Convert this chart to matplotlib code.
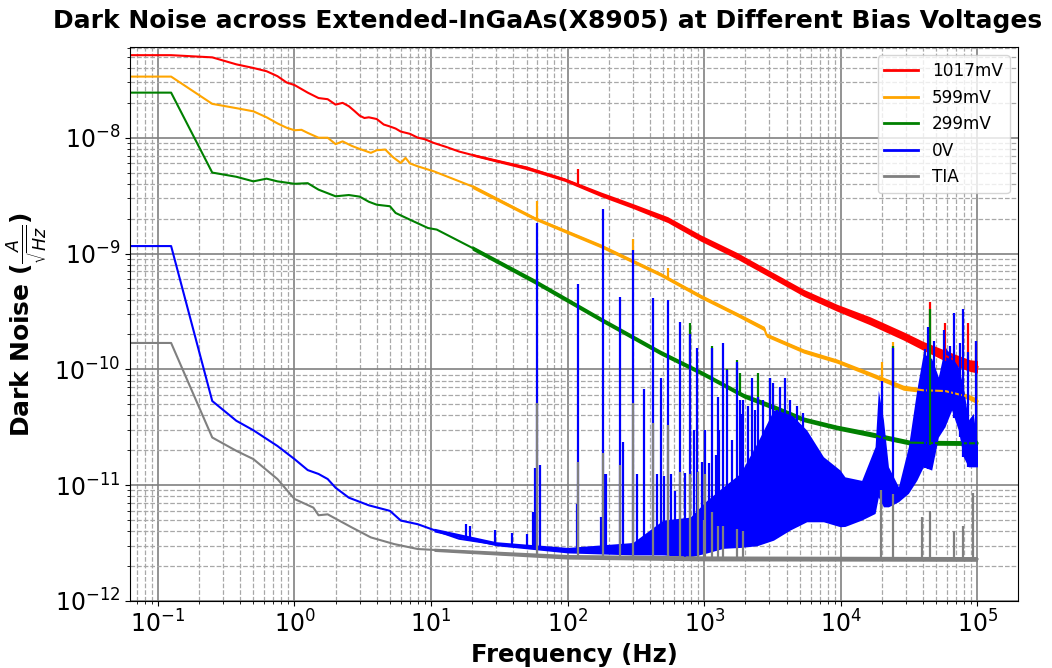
import numpy as np
import matplotlib
matplotlib.use("Agg")
import matplotlib.pyplot as plt

# ---------------------------------------------------------------
# Spectral level of each trace (Hz, A/sqrt(Hz)); the first bin is DC
# ---------------------------------------------------------------
red_freq = [0, 0.125, 0.25, 0.375, 0.5, 0.625, 0.75, 0.875, 1.0, 1.25, 1.5, 1.75,
            2.0, 2.25, 2.5, 2.75, 3.0, 3.25, 3.5, 4.0, 4.5, 5.0, 5.5, 6.0, 7.0, 8.0,
            9.0, 10.5, 13, 16, 20, 30, 50, 95, 175, 300, 540, 940, 1740, 3050, 5340,
            9350, 16400, 28700, 40200, 66500, 88000, 100000]
red_level = [5.16e-8, 5.16e-8, 4.94e-8, 4.3e-8, 4.0e-8, 3.75e-8, 3.4e-8, 3.0e-8,
             2.85e-8, 2.45e-8, 2.2e-8, 2.15e-8, 1.93e-8, 2.0e-8, 1.87e-8, 1.7e-8,
             1.55e-8, 1.48e-8, 1.5e-8, 1.45e-8, 1.3e-8, 1.25e-8, 1.2e-8, 1.13e-8,
             1.08e-8, 1.0e-8, 0.97e-8, 0.9e-8, 8.3e-9, 7.6e-9, 7.1e-9, 6.3e-9, 5.5e-9,
             4.35e-9, 3.23e-9, 2.56e-9, 1.96e-9, 1.36e-9, 9.5e-10, 6.6e-10, 4.58e-10,
             3.4e-10, 2.61e-10, 1.94e-10, 1.59e-10, 1.22e-10, 1.07e-10, 1.05e-10]

orange_freq = [0, 0.125, 0.25, 0.375, 0.5, 0.625, 0.75, 0.875, 1.0, 1.125, 1.25, 1.5,
               1.75, 2.0, 2.25, 2.625, 3.0, 3.625, 4.0, 4.625, 5.25, 6.0, 6.5, 7.0,
               8.0, 10.5, 20, 57, 175, 480, 940, 1740, 2750, 2850, 5340, 9350, 16400,
               28700, 40000, 58000, 86000, 100000]
orange_level = [3.37e-8, 3.37e-8, 1.96e-8, 1.8e-8, 1.69e-8, 1.5e-8, 1.33e-8, 1.22e-8,
                1.16e-8, 1.17e-8, 1.1e-8, 1.0e-8, 1.0e-8, 8.8e-9, 9.3e-9, 8.5e-9,
                8.0e-9, 7.4e-9, 7.8e-9, 7.9e-9, 6.8e-9, 6.05e-9, 6.7e-9, 6.0e-9,
                5.66e-9, 5.12e-9, 3.8e-9, 2.02e-9, 1.16e-9, 6.6e-10, 4.28e-10,
                2.98e-10, 2.25e-10, 1.98e-10, 1.44e-10, 1.18e-10, 9.06e-11, 6.95e-11,
                6.6e-11, 6.5e-11, 5.8e-11, 5.3e-11]

green_freq = [0, 0.125, 0.25, 0.375, 0.5, 0.625, 0.75, 1.0, 1.25, 1.5, 2.0, 2.5, 3.0,
              3.5, 4.0, 5.0, 5.5, 7.0, 9.5, 11, 20, 57, 175, 480, 940, 1950, 3050,
              5340, 9350, 16400, 25000, 32000, 60000, 100000]
green_level = [2.45e-8, 2.45e-8, 5.0e-9, 4.6e-9, 4.2e-9, 4.43e-9, 4.2e-9, 4.0e-9,
               4.05e-9, 3.56e-9, 3.12e-9, 3.2e-9, 3.1e-9, 2.8e-9, 2.64e-9, 2.56e-9,
               2.24e-9, 1.96e-9, 1.66e-9, 1.61e-9, 1.12e-9, 5.77e-10, 2.7e-10,
               1.39e-10, 9.4e-11, 5.9e-11, 4.83e-11, 3.7e-11, 3.14e-11, 2.75e-11,
               2.41e-11, 2.33e-11, 2.3e-11, 2.3e-11]

blue_freq = [0, 0.125, 0.25, 0.375, 0.5, 0.75, 1.0, 1.25, 1.5, 1.75, 2.0, 2.5, 3.5,
             5.0, 6.0, 8.0, 10.5, 16, 29, 51, 93, 155, 272]
blue_level = [1.16e-9, 1.16e-9, 5.33e-11, 3.6e-11, 2.98e-11, 2.18e-11, 1.68e-11,
              1.35e-11, 1.25e-11, 1.13e-11, 9.5e-12, 7.8e-12, 6.7e-12, 6.0e-12,
              4.95e-12, 4.6e-12, 4.1e-12, 3.45e-12, 3.1e-12, 2.9e-12, 2.72e-12,
              2.7e-12, 2.65e-12]

gray_freq = [0, 0.125, 0.25, 0.375, 0.5, 0.75, 1.0, 1.375, 1.5, 1.75, 2.625, 3.625,
             5.375, 8.0, 10.5, 30, 100, 1000, 10000, 100000]
gray_level = [1.69e-10, 1.69e-10, 2.58e-11, 1.98e-11, 1.68e-11, 1.13e-11, 7.6e-12,
              6.4e-12, 5.5e-12, 5.6e-12, 4.32e-12, 3.54e-12, 3.1e-12, 2.81e-12,
              2.76e-12, 2.55e-12, 2.42e-12, 2.35e-12, 2.32e-12, 2.3e-12]

# ---------------------------------------------------------------
# Noise envelopes (lower / upper) where the traces become dense
# ---------------------------------------------------------------
red_band_freq = [20, 50, 95, 175, 300, 540, 940, 1740, 3050, 5340, 9350, 16400,
                 28700, 40200, 66500, 88000, 100000]
red_band_lo = [6.95e-9, 5.3e-9, 4.2e-9, 3.1e-9, 2.45e-9, 1.85e-9, 1.28e-9, 8.95e-10,
               6.2e-10, 4.28e-10, 3.18e-10, 2.42e-10, 1.79e-10, 1.46e-10, 1.09e-10,
               9.6e-11, 9.3e-11]
red_band_hi = [7.3e-9, 5.7e-9, 4.5e-9, 3.4e-9, 2.7e-9, 2.08e-9, 1.45e-9, 1.02e-9,
               7.05e-10, 4.9e-10, 3.65e-10, 2.84e-10, 2.11e-10, 1.74e-10, 1.37e-10,
               1.21e-10, 1.19e-10]

orange_band_freq = [20, 57, 175, 480, 940, 1740, 2750, 2850, 5340, 9350, 16400,
                    28700, 40000, 58000, 86000, 100000]
orange_band_lo = [3.65e-9, 1.95e-9, 1.12e-9, 6.35e-10, 4.1e-10, 2.86e-10, 2.15e-10,
                  1.9e-10, 1.38e-10, 1.13e-10, 8.7e-11, 6.6e-11, 6.3e-11, 6.2e-11,
                  5.5e-11, 5.0e-11]
orange_band_hi = [3.95e-9, 2.09e-9, 1.21e-9, 6.85e-10, 4.45e-10, 3.1e-10, 2.35e-10,
                  2.06e-10, 1.5e-10, 1.23e-10, 9.5e-11, 7.3e-11, 6.9e-11, 6.8e-11,
                  6.1e-11, 5.6e-11]

green_band_freq = [20, 57, 175, 480, 940, 1950, 3050, 5340, 9350, 16400, 32000,
                   100000]
green_band_lo = [1.07e-9, 5.5e-10, 2.58e-10, 1.33e-10, 9.0e-11, 5.65e-11, 4.6e-11,
                 3.53e-11, 3.0e-11, 2.62e-11, 2.22e-11, 2.2e-11]
green_band_hi = [1.17e-9, 6.05e-10, 2.83e-10, 1.46e-10, 9.85e-11, 6.2e-11, 5.1e-11,
                 3.88e-11, 3.3e-11, 2.9e-11, 2.45e-11, 2.42e-11]

blue_band_freq = [10.5, 30, 100, 300, 500, 789, 1045, 1380, 1830, 2430, 3210, 4250,
                  5620, 7450, 9870, 10700, 14200, 17800, 18800, 20500, 22300, 26400,
                  31200, 35900, 40100, 46200, 51700, 57800, 64700, 72400, 78700,
                  85700, 93200, 100000]
blue_band_lo = [3.95e-12, 3.0e-12, 2.6e-12, 2.5e-12, 2.5e-12, 2.4e-12, 2.6e-12,
                2.85e-12, 2.9e-12, 3.0e-12, 3.35e-12, 4.1e-12, 4.83e-12, 4.83e-12,
                4.38e-12, 4.4e-12, 5.0e-12, 5.7e-12, 7.9e-12, 6.5e-12, 6.5e-12,
                7.2e-12, 8.5e-12, 1.1e-11, 1.44e-11, 1.35e-11, 2.6e-11, 3.2e-11,
                4.45e-11, 2.99e-11, 1.76e-11, 1.44e-11, 1.44e-11, 1.44e-11]
blue_band_hi = [4.25e-12, 3.25e-12, 2.9e-12, 3.2e-12, 5.0e-12, 5.3e-12, 7.4e-12,
                9.7e-12, 1.26e-11, 2.3e-11, 4.45e-11, 4.17e-11, 2.99e-11, 1.76e-11,
                1.35e-11, 1.18e-11, 1.1e-11, 2.15e-11, 6.6e-11, 3.65e-11, 1.44e-11,
                9.7e-12, 2.15e-11, 6.6e-11, 1.37e-10, 1.24e-10, 8.6e-11, 1.57e-10,
                1.29e-10, 1.05e-10, 7.1e-11, 3.65e-11, 4.17e-11, 2.15e-11]

gray_band_freq = [10.5, 100, 1000, 100000]
gray_band_lo = [2.68e-12, 2.3e-12, 2.22e-12, 2.2e-12]
gray_band_hi = [2.86e-12, 2.52e-12, 2.45e-12, 2.42e-12]

# ---------------------------------------------------------------
# Narrow spectral lines (frequency, peak value)
# ---------------------------------------------------------------
red_spike_freq = [120, 44900, 57800, 85700, 98000]
red_spike_peak = [5.4e-9, 3.84e-10, 2.5e-10, 2.5e-10, 1.74e-10]

orange_spike_freq = [60, 300, 540, 19900, 24200]
orange_spike_peak = [2.82e-9, 1.34e-9, 7.5e-10, 1.15e-10, 1.72e-10]

green_spike_freq = [780, 1136, 1479, 1731, 1830, 2494, 3034, 24200, 44900]
green_spike_peak = [2.52e-10, 1.6e-10, 1.0e-10, 1.2e-10, 9.3e-11, 9.3e-11, 8.5e-11,
                    1.6e-10, 3.3e-10]

blue_spike_freq = [18.1, 19.4, 29.2, 39.1, 50.3, 55.6, 57.2, 60, 63.2, 117, 120, 176,
                   180, 188, 190, 240, 255, 300, 321, 360, 420, 448, 480, 503, 540,
                   573, 606, 660, 717, 780, 834, 892, 960, 1016, 1074, 1136, 1222,
                   1264, 1292, 1367, 1479, 1591, 1731, 1830, 1853, 1936, 2107, 2228,
                   2357, 2494, 2713, 3034, 3210, 3434, 3592, 3907, 4250, 4755, 5320,
                   19900, 24200, 41300, 43700, 48300, 56700, 63300, 67700, 74000,
                   78700, 85700, 98000]
blue_spike_peak = [4.6e-12, 4.4e-12, 4.1e-12, 3.9e-12, 3.8e-12, 5.9e-12, 1.4e-11,
                   1.84e-9, 1.5e-11, 6.9e-12, 5.5e-10, 5.3e-12, 2.4e-9, 1.26e-11,
                   1.24e-11, 4.2e-10, 2.37e-11, 1.08e-9, 1.24e-11, 6.7e-11, 4.1e-10,
                   1.24e-11, 8.5e-11, 1.2e-11, 4.0e-10, 1.24e-11, 8.9e-12, 2.58e-10,
                   1.28e-11, 2.0e-10, 3.0e-11, 1.52e-10, 1.59e-11, 3.0e-11, 1.54e-11,
                   1.52e-10, 1.82e-11, 5.8e-11, 3.0e-11, 1.68e-10, 9.9e-11, 2.45e-11,
                   1.16e-10, 5.4e-11, 4.1e-11, 5.4e-11, 4.8e-11, 8.4e-11, 4.46e-11,
                   5.8e-11, 5.4e-11, 8.4e-11, 7.6e-11, 4.46e-11, 7.1e-11, 8.4e-11,
                   5.4e-11, 4.8e-11, 4.2e-11, 8.0e-11, 1.52e-10, 1.5e-10, 2.33e-10,
                   1.74e-10, 2.2e-10, 1.6e-10, 3.05e-10, 1.7e-10, 3.3e-10, 1.4e-10,
                   1.74e-10]

gray_spike_freq = [60, 120, 180, 240, 300, 420, 540, 660, 780, 900, 993, 1016, 1136,
                   1264, 1367, 1731, 1936, 19600, 24200, 39500, 45000, 67700, 78700,
                   93200]
gray_spike_peak = [5.15e-11, 1.59e-11, 1.88e-11, 1.5e-11, 5.15e-11, 3.42e-11, 3.3e-11,
                   1.31e-11, 1.25e-11, 1.3e-11, 5.0e-12, 1.26e-11, 5.9e-12, 4.4e-12,
                   4.4e-12, 4.2e-12, 4.0e-12, 9.1e-12, 8.4e-12, 5.3e-12, 6.0e-12,
                   4.0e-12, 4.4e-12, 8.5e-12]

series_labels = ["1017mV", "599mV", "299mV", "0V", "TIA"]
series_colors = ["red", "orange", "green", "blue", "gray"]

x_decades = [1e-1, 1e0, 1e1, 1e2, 1e3, 1e4, 1e5]
y_decades = [1e-12, 1e-11, 1e-10, 1e-9, 1e-8]

title_text = "Dark Noise across Extended-InGaAs(X8905) at Different Bias Voltages"


def base_of(freqs, ref_f, ref_v):
    """Foot of each spectral line on the trace it rises from (log-log)."""
    ref_f = np.asarray(ref_f, float)
    ref_v = np.asarray(ref_v, float)
    keep = ref_f > 0
    return 10 ** np.interp(np.log10(freqs), np.log10(ref_f[keep]),
                           np.log10(ref_v[keep]))


fig = plt.figure(figsize=(10.52, 6.68), dpi=100)
ax = fig.add_axes([130 / 1052, 1 - 601 / 668, 888 / 1052, 554 / 668])
ax.set_xscale("log")
ax.set_yscale("log")

traces = [
    (red_freq, red_level, red_band_freq, red_band_lo, red_band_hi,
     red_spike_freq, red_spike_peak),
    (orange_freq, orange_level, orange_band_freq, orange_band_lo, orange_band_hi,
     orange_spike_freq, orange_spike_peak),
    (green_freq, green_level, green_band_freq, green_band_lo, green_band_hi,
     green_spike_freq, green_spike_peak),
    (blue_freq, blue_level, blue_band_freq, blue_band_lo, blue_band_hi,
     blue_spike_freq, blue_spike_peak),
    (gray_freq, gray_level, gray_band_freq, gray_band_lo, gray_band_hi,
     gray_spike_freq, gray_spike_peak),
]

for (f, v, bf, blo, bhi, sf, sp), lab, col in zip(traces, series_labels,
                                                  series_colors):
    ax.plot(f, v, color=col, lw=1.5, label=lab)
    ax.fill_between(bf, blo, bhi, color=col, lw=0)
    ax.vlines(sf, base_of(sf, bf, blo), sp, color=col, lw=1.6)

ax.set_xlim(0.0625, 1.98e5)
ax.set_ylim(1e-12, 6.07e-8)
ax.set_xticks(x_decades)
ax.set_yticks(y_decades)

ax.grid(True, which="major", color="#808080", ls="-", lw=1.2)
ax.grid(True, which="minor", color="#a8a8a8", ls="--", lw=0.9)
ax.set_axisbelow(True)

ax.tick_params(axis="both", which="major", labelsize=17)
for sp_ in ax.spines.values():
    sp_.set_color("black")

fig.text(548 / 1052, 1 - 28 / 668, title_text, fontsize=18, fontweight="bold",
         ha="center", va="baseline")
ax.set_xlabel("Frequency (Hz)", fontsize=17.5, fontweight="bold")
ax.set_ylabel(r"Dark Noise ($\frac{A}{\sqrt{Hz}}$)", fontsize=18,
              fontweight="bold")

leg = ax.legend(loc="upper right", fontsize=12.2, borderaxespad=0.5)
for line in leg.get_lines():
    line.set_linewidth(2.0)

fig.savefig("out.png", dpi=100)
